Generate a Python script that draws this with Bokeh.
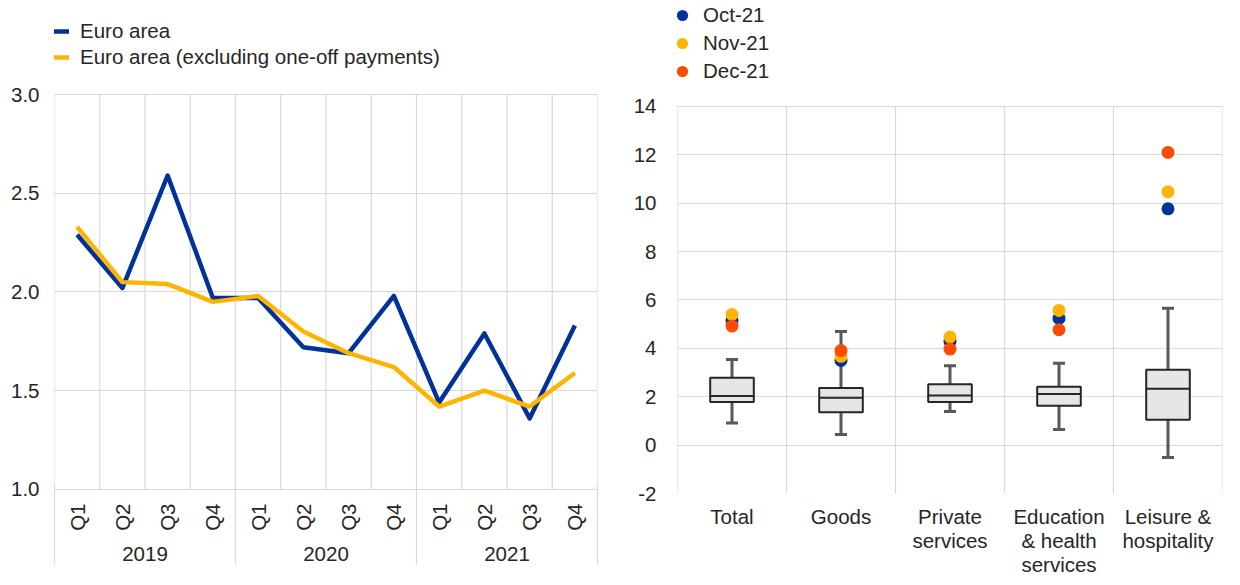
import math

from bokeh.plotting import figure
from bokeh.layouts import row
from bokeh.models import (FixedTicker, LinearAxis, Range1d, Legend, LegendItem,
                          FactorRange, NumeralTickFormatter)
from bokeh.embed import file_html
from bokeh.resources import INLINE

FONT = "Liberation Sans"
FONT_SIZE = "20.5px"
TEXT = "#262626"
GRID = "#d9d9d9"
BLUE = "#003299"
YELLOW = "#FFB400"
ORANGE = "#FF4B00"

# ---- Left panel: quarterly wage growth, euro area ----
years = ["2019", "2020", "2021"]
quarters = ["Q1", "Q2", "Q3", "Q4"]
euro_area = [2.29, 2.02, 2.59, 1.97, 1.97, 1.72, 1.69, 1.98, 1.44, 1.79, 1.36, 1.83]
euro_area_ex_one_off = [2.33, 2.05, 2.04, 1.95, 1.98, 1.80, 1.69, 1.62, 1.42, 1.50, 1.42, 1.59]
left_y_ticks = [1.0, 1.5, 2.0, 2.5, 3.0]

# ---- Right panel: distribution by sector ----
sectors = ["Total", "Goods", "Private\nservices", "Education\n& health\nservices",
           "Leisure &\nhospitality"]
whisker_low = [0.91, 0.44, 1.39, 0.65, -0.51]
quartile_1 = [1.78, 1.36, 1.78, 1.63, 1.05]
median = [2.03, 1.96, 2.05, 2.11, 2.33]
quartile_3 = [2.79, 2.36, 2.52, 2.41, 3.12]
whisker_high = [3.54, 4.70, 3.28, 3.39, 5.66]
oct_21 = [5.15, 3.50, 4.29, 5.24, 9.77]
nov_21 = [5.40, 3.67, 4.47, 5.57, 10.48]
dec_21 = [4.92, 3.91, 3.97, 4.77, 12.10]
right_y_ticks = [-2, 0, 2, 4, 6, 8, 10, 12, 14]

# Both panels share one frame band (top of page to the x axes) so that the
# row layout keeps them aligned; the legends sit inside that band.
FRAME_H = 493
BOTTOM = 92


def style_text_axis(axis):
    axis.major_label_text_font = FONT
    axis.major_label_text_font_size = FONT_SIZE
    axis.major_label_text_color = TEXT
    axis.major_tick_out = 0
    axis.major_tick_in = 0
    axis.minor_tick_out = 0
    axis.minor_tick_in = 0
    axis.axis_line_color = None


def style_legend(legend):
    legend.padding = 0
    legend.margin = 0
    legend.border_line_color = None
    legend.background_fill_alpha = 0
    legend.label_text_font = FONT
    legend.label_text_font_size = FONT_SIZE
    legend.label_text_color = TEXT


# ---------------- left figure ----------------
periods = list(range(1, len(years) * len(quarters) + 1))
period_bounds = [p - 0.5 for p in periods] + [periods[-1] + 0.5]

p1 = figure(frame_width=543, frame_height=FRAME_H,
            min_border_left=54, min_border_right=13,
            min_border_top=0, min_border_bottom=BOTTOM,
            x_range=Range1d(0.5, 12.5), y_range=Range1d(0.9797, 3.476),
            x_axis_location=None,
            output_backend="svg", toolbar_location=None)
p1.outline_line_color = None
p1.xgrid.visible = False

p1.yaxis.ticker = FixedTicker(ticks=left_y_ticks)
p1.yaxis.formatter = NumeralTickFormatter(format="0.0")
style_text_axis(p1.yaxis[0])
p1.yaxis.major_label_standoff = 15

p1.ygrid.ticker = FixedTicker(ticks=left_y_ticks)
p1.ygrid.grid_line_color = GRID
p1.ygrid.grid_line_width = 1.2

# vertical grid between quarters
p1.segment(x0=period_bounds, y0=min(left_y_ticks), x1=period_bounds, y1=max(left_y_ticks),
           line_color=GRID, line_width=1.2)

# quarter labels, reading bottom to top
quarter_labels = {p: quarters[(p - 1) % 4] for p in periods}
q_axis = LinearAxis(ticker=FixedTicker(ticks=periods),
                    major_label_overrides=quarter_labels,
                    major_label_orientation=math.pi / 2)
style_text_axis(q_axis)
q_axis.major_label_standoff = 10
p1.add_layout(q_axis, "below")

# year labels
p1.extra_x_ranges = {"years": Range1d(0, 2 * len(years))}
year_axis = LinearAxis(x_range_name="years",
                       ticker=FixedTicker(ticks=[1, 3, 5]),
                       major_label_overrides={2 * i + 1: y for i, y in enumerate(years)})
style_text_axis(year_axis)
year_axis.major_label_standoff = 13
p1.add_layout(year_axis, "below")

# label-less axis whose inward minor ticks separate the years
year_bounds = period_bounds[::4]
sep_axis = LinearAxis(ticker=FixedTicker(ticks=[], minor_ticks=year_bounds))
style_text_axis(sep_axis)
sep_axis.minor_tick_in = 78
sep_axis.minor_tick_out = 1
sep_axis.minor_tick_line_color = GRID
sep_axis.minor_tick_line_width = 1.2
p1.add_layout(sep_axis, "below")

r_ea = p1.line(periods, euro_area, line_color=BLUE, line_width=4.5, line_join="round")
r_ex = p1.line(periods, euro_area_ex_one_off, line_color=YELLOW, line_width=4.5,
               line_join="round")

legend1 = Legend(items=[LegendItem(label="Euro area", renderers=[r_ea]),
                        LegendItem(label="Euro area (excluding one-off payments)",
                                   renderers=[r_ex])],
                 location=(-2, 423), glyph_width=17, glyph_height=26, label_height=26,
                 spacing=0, label_standoff=11)
style_legend(legend1)
p1.add_layout(legend1)

# ---------------- right figure ----------------
p2 = figure(frame_width=545, frame_height=FRAME_H,
            min_border_left=67, min_border_right=18,
            min_border_top=0, min_border_bottom=BOTTOM,
            x_range=FactorRange(factors=sectors), y_range=Range1d(-2, 18.382),
            output_backend="svg", toolbar_location=None)
p2.outline_line_color = None
p2.xgrid.visible = False

p2.yaxis.ticker = FixedTicker(ticks=right_y_ticks)
p2.yaxis.major_label_overrides = {t: str(t) for t in right_y_ticks}
style_text_axis(p2.yaxis[0])
p2.yaxis.major_label_standoff = 21
style_text_axis(p2.xaxis[0])
p2.xaxis.major_label_standoff = 11
p2.xaxis.major_label_text_line_height = 1.06

p2.ygrid.ticker = FixedTicker(ticks=right_y_ticks)
p2.ygrid.grid_line_color = GRID
p2.ygrid.grid_line_width = 1.2

# vertical grid between sectors
sector_bounds = list(range(len(sectors) + 1))
p2.segment(x0=sector_bounds, y0=min(right_y_ticks), x1=sector_bounds, y1=max(right_y_ticks),
           line_color=GRID, line_width=1.2)

WHISKER = "#595959"
BOX_LINE = "#262626"
p2.segment(x0=sectors, y0=whisker_low, x1=sectors, y1=quartile_1,
           line_color=WHISKER, line_width=3)
p2.segment(x0=sectors, y0=quartile_3, x1=sectors, y1=whisker_high,
           line_color=WHISKER, line_width=3)
p2.scatter(x=sectors, y=whisker_low, marker="dash", size=12,
           line_color=WHISKER, line_width=3)
p2.scatter(x=sectors, y=whisker_high, marker="dash", size=12,
           line_color=WHISKER, line_width=3)
p2.vbar(x=sectors, bottom=quartile_1, top=quartile_3, width=0.4,
        fill_color="#e6e6e6", line_color=BOX_LINE, line_width=2)
p2.vbar(x=sectors, bottom=median, top=median, width=0.4,
        fill_color=None, line_color=BOX_LINE, line_width=2)

r_oct = p2.scatter(x=sectors, y=oct_21, size=13, fill_color=BLUE, line_color=None)
r_nov = p2.scatter(x=sectors, y=nov_21, size=13, fill_color=YELLOW, line_color=None)
r_dec = p2.scatter(x=sectors, y=dec_21, size=13, fill_color=ORANGE, line_color=None)

legend2 = Legend(items=[LegendItem(label="Oct-21", renderers=[r_oct]),
                        LegendItem(label="Nov-21", renderers=[r_nov]),
                        LegendItem(label="Dec-21", renderers=[r_dec])],
                 location=(-9, 408), glyph_width=28, glyph_height=28, label_height=28,
                 spacing=0, label_standoff=7)
style_legend(legend2)
p2.add_layout(legend2)

layout = row(p1, p2)
open("out.html", "w").write(file_html(layout, INLINE))
